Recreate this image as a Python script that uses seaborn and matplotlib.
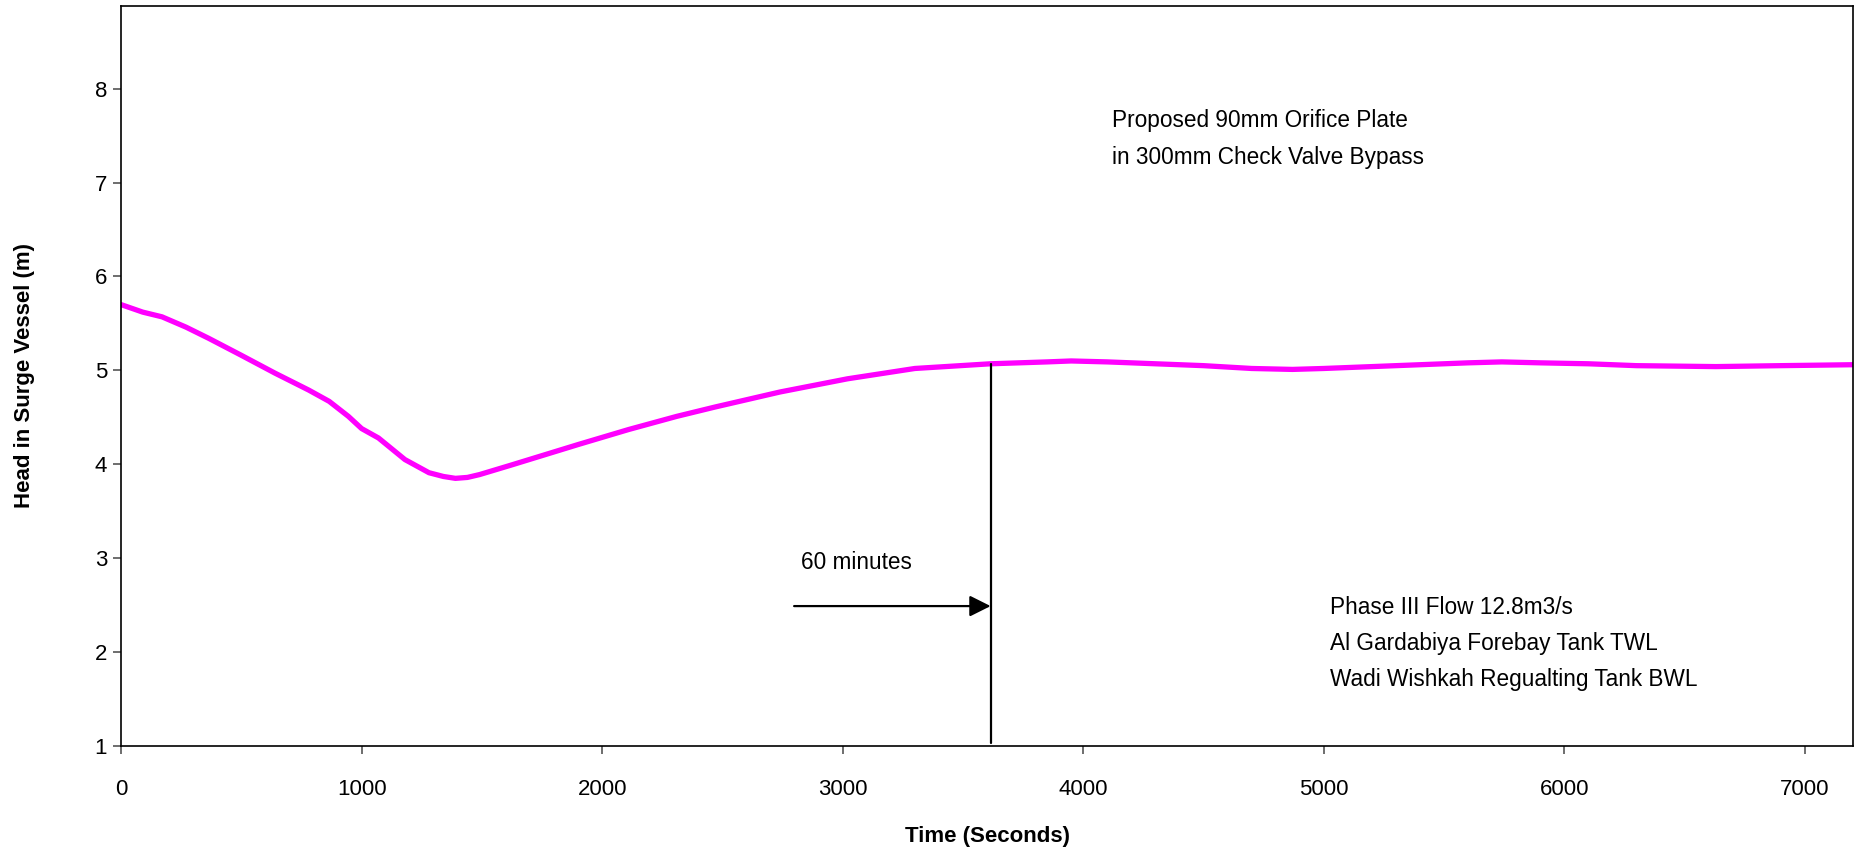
import numpy as np
import pandas as pd
import seaborn as sns
import matplotlib.pyplot as plt

# time (s) and head in surge vessel (m)
time_s = [0, 90, 170, 270, 365, 500, 640, 780, 865, 945, 1000, 1070, 1180,
          1280, 1340, 1390, 1440, 1490, 1620, 1760, 1900, 2110, 2310, 2470,
          2740, 3020, 3300, 3615, 3850, 3950, 4100, 4300, 4500, 4700, 4870,
          5000, 5200, 5400, 5600, 5740, 5900, 6100, 6300, 6630, 6900, 7200]
head_m = [5.70, 5.62, 5.57, 5.46, 5.34, 5.16, 4.97, 4.79, 4.67, 4.51, 4.38,
          4.28, 4.05, 3.91, 3.87, 3.85, 3.86, 3.89, 3.99, 4.10, 4.21, 4.37,
          4.51, 4.61, 4.77, 4.91, 5.02, 5.07, 5.09, 5.10, 5.09, 5.07, 5.05,
          5.02, 5.01, 5.02, 5.04, 5.06, 5.08, 5.09, 5.08, 5.07, 5.05, 5.04,
          5.05, 5.06]

marker_time = 3615
marker_head = 5.07
note_top = ["Proposed 90mm Orifice Plate", "in 300mm Check Valve Bypass"]
note_bottom = ["Phase III Flow 12.8m3/s", "Al Gardabiya Forebay Tank TWL",
               "Wadi Wishkah Regualting Tank BWL"]

df = pd.DataFrame({"time": time_s, "head": head_m})

sns.set_style("ticks")
plt.rcParams['font.family'] = ['Liberation Sans', 'DejaVu Sans']
plt.rcParams['text.color'] = 'black'

fig = plt.figure(figsize=(18.63, 8.52), dpi=100)
ax = fig.add_axes([0.065, 0.1244, 0.9296, 0.8686])

sns.lineplot(data=df, x="time", y="head", ax=ax, color="#FF00FF", linewidth=3.8)

ax.set_xlim(0, 7200)
ax.set_ylim(1, 8.88)
ax.set_xticks(range(0, 8000, 1000))
ax.set_yticks(range(1, 9))
ax.tick_params(axis='both', labelsize=16, length=5.5, width=1.2,
               color='#555555', labelcolor='black')
ax.tick_params(axis='x', pad=18)
ax.tick_params(axis='y', pad=4.5)
for s in ax.spines.values():
    s.set_color('black')
    s.set_linewidth(1.2)

narrow = ['Liberation Sans Narrow', 'Liberation Sans', 'DejaVu Sans']
ax.set_xlabel("Time (Seconds)", fontsize=16, fontweight='bold', family=narrow, color='black')
ax.set_ylabel("Head in Surge Vessel (m)", fontsize=16, fontweight='bold', family=narrow, color='black')
ax.xaxis.set_label_coords(0.5, -0.108)
ax.yaxis.set_label_coords(-0.05, 0.5)

# 60 minute marker
ax.plot([marker_time, marker_time], [1.035, marker_head], color='black', linewidth=1.6)
ax.annotate("", xy=(marker_time, 2.49), xytext=(2798, 2.49),
            arrowprops=dict(arrowstyle='-|>', color='black', lw=1.6,
                            mutation_scale=32, shrinkA=0, shrinkB=0))
ax.text(2826, 2.95, "60 minutes", fontsize=16.3, va='center', ha='left')

ax.text(4120, 7.66, note_top[0], fontsize=16.3, va='center')
ax.text(4120, 7.27, note_top[1], fontsize=16.3, va='center')
for i, line in enumerate(note_bottom):
    ax.text(5027, 2.47 - 0.38 * i, line, fontsize=16.3, va='center')

fig.savefig("out.png", dpi=100)
